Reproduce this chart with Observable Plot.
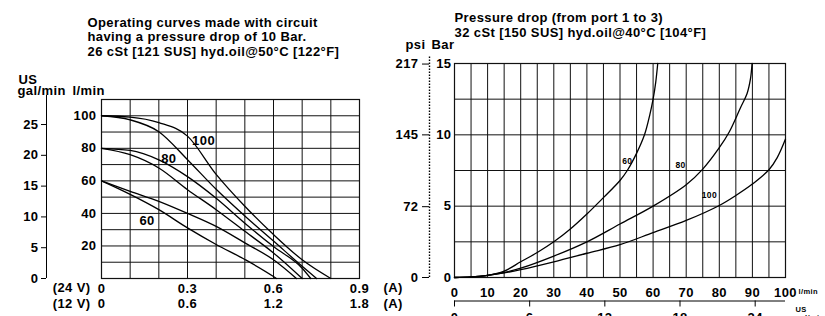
<!DOCTYPE html>
<html><head><meta charset="utf-8">
<script src="https://cdn.jsdelivr.net/npm/d3@7"></script>
<script src="https://cdn.jsdelivr.net/npm/@observablehq/plot@0.6"></script>
<style>
html,body{margin:0;padding:0;background:#fff;}
#wrap{position:relative;width:825px;height:316px;overflow:hidden;background:#fff;}
#wrap svg{position:absolute;top:0;}
</style></head><body><div id="wrap"></div>
<script>
// ---------- conversion ----------
const GAL = 3.785;      // l per US gal
const PSI = 14.5038;    // psi per bar

// ---------- LEFT chart: flow (l/min) vs coil current ----------
const leftTitle = ["Operating curves made with circuit", "having a pressure drop of 10 Bar.", "26 cSt [121 SUS] hyd.oil@50°C [122°F]"];
const leftCurrent24 = [0, 0.3, 0.6, 0.9];
const leftCurrent12 = [0, 0.6, 1.2, 1.8];
const leftFlowTicks = [20, 40, 60, 80, 100];
const leftGalTicks = [0, 5, 10, 15, 20, 25];
const leftGridX = [0.1, 0.2, 0.3, 0.4, 0.5, 0.6, 0.7, 0.8];
const leftGridY = [10, 20, 30, 40, 50, 60, 70, 80, 90, 100];
const left100Hi = [[0,100],[0.1,99.2],[0.2,95.8],[0.3,87.5],[0.4,64],[0.5,44.4],[0.6,27],[0.7,11.5],[0.8,0]];
const left100Lo = [[0,100],[0.1,97.5],[0.2,90.2],[0.3,73],[0.4,54.8],[0.5,38.4],[0.6,23],[0.7,7.5],[0.75,0]];
const left80Hi  = [[0,80],[0.1,78.7],[0.2,72.9],[0.3,62.6],[0.4,49.3],[0.5,34],[0.6,19.6],[0.7,6.3],[0.73,0]];
const left80Lo  = [[0,80],[0.1,76.1],[0.2,67.9],[0.3,54.6],[0.4,42.3],[0.5,29],[0.6,15.7],[0.7,0]];
const left60Hi  = [[0,60],[0.1,53.6],[0.2,47.4],[0.3,40],[0.4,32],[0.5,21.9],[0.6,11.5],[0.68,0]];
const left60Lo  = [[0,60],[0.1,51.7],[0.2,42.3],[0.3,31.1],[0.4,20.9],[0.5,11.7],[0.6,1.2],[0.61,0]];
const leftLabelText = ["100", "80", "60"];
const leftLabelX = [0.356, 0.235, 0.159];
const leftLabelY = [84.5, 73.3, 35.6];

// ---------- RIGHT chart: pressure drop (bar) vs flow (l/min) ----------
const rightTitle = ["Pressure drop (from port 1 to 3)", "32 cSt [150 SUS] hyd.oil@40°C [104°F]"];
const rightFlowTicks = [0, 10, 20, 30, 40, 50, 60, 70, 80, 90, 100];
const rightBarTicks = [0, 5, 10, 15];
const rightPsiTicks = [0, 72, 145, 217];
const rightGalTicks = [0, 6, 12, 18, 24];
const rightGridX = [5,10,15,20,25,30,35,40,45,50,55,60,65,70,75,80,85,90,95];
const rightGridY = [2.5, 5, 7.5, 10, 12.5];
const right60  = [[0,0],[5,0.04],[10,0.15],[15,0.45],[20,1.1],[25,1.75],[30,2.5],[35,3.4],[40,4.45],[45,5.6],[50,6.8],[52.2,7.5],[55,8.7],[57.4,10],[59,11.4],[60,12.5],[60.8,13.7],[61.4,15]];
const right80  = [[0,0],[5,0.04],[10,0.15],[15,0.35],[20,0.65],[30,1.5],[40,2.5],[50,3.75],[60,5.0],[70,6.5],[75,7.6],[80,9.1],[83,10.2],[86.4,11.9],[88.4,12.9],[89.4,13.9],[89.9,15]];
const right100 = [[0,0],[5,0.04],[10,0.15],[15,0.32],[20,0.55],[30,1.1],[40,1.7],[50,2.3],[60,3.15],[70,4.0],[80,5.05],[85,5.75],[90,6.55],[95,7.55],[97.5,8.4],[100,9.7]];
const rightLabelText = ["60", "80", "100"];
const rightLabelX = [52.2, 68.3, 77];
const rightLabelY = [8.15, 7.9, 5.75];

// ---------- build tables ----------
const toRows = (obj) => Object.entries(obj).flatMap(([s, arr]) => arr.map(([x, y]) => ({s, x, y})));
const leftRows = toRows({left100Hi, left100Lo, left80Hi, left80Lo, left60Hi, left60Lo});
const rightRows = toRows({right60, right80, right100});
const leftLabels = leftLabelText.map((t, i) => ({t, x: leftLabelX[i], y: leftLabelY[i]}));
const rightLabels = rightLabelText.map((t, i) => ({t, x: rightLabelX[i], y: rightLabelY[i]}));

const INK = "#111";
const baseStyle = {fontFamily: "'Liberation Sans', Arial, sans-serif", fontWeight: "bold", fontSize: "13px", color: "#000", background: "transparent", overflow: "visible", letterSpacing: "0.4px"};
const id = d => d;

const left = Plot.plot({
  width: 420, height: 316,
  marginLeft: 101, marginRight: 61, marginTop: 99, marginBottom: 38,
  x: {domain: [0, 0.9], axis: null},
  y: {domain: [0, 110], axis: null},
  style: baseStyle,
  marks: [
    Plot.ruleX(leftGridX, {stroke: INK, strokeWidth: 1}),
    Plot.ruleY(leftGridY, {stroke: INK, strokeWidth: 1}),
    Plot.frame({stroke: INK, strokeWidth: 1.2}),
    Plot.line(leftRows, {x: "x", y: "y", z: "s", curve: "monotone-x", stroke: "#000", strokeWidth: 1.3}),
    Plot.text(leftLabels, {x: "x", y: "y", text: "t", fontSize: 13, fill: "#000"}),
    // l/min axis
    Plot.axisY(leftFlowTicks, {tickSize: 0, tickPadding: 5, label: null, fontSize: 13}),
    // US gal/min axis
    Plot.ruleX([0], {y1: 0, y2: 112.5, dx: -55, stroke: "#000", strokeWidth: 1}),
    Plot.axisY(leftGalTicks.map(g => g * GAL), {tickFormat: d => Math.round(d / GAL), tickSize: 5, tickPadding: 3, dx: -55, label: null, fontSize: 13, stroke: "#000"}),
    Plot.text(["US"], {text: id, frameAnchor: "top-left", dx: -83, dy: -15.5, textAnchor: "start", lineAnchor: "bottom", fontSize: 13}),
    Plot.text(["gal/min"], {text: id, frameAnchor: "top-left", dx: -84, dy: -5, textAnchor: "start", lineAnchor: "bottom", fontSize: 13}),
    Plot.text(["l/min"], {text: id, frameAnchor: "top-left", dx: -29, dy: -5, textAnchor: "start", lineAnchor: "bottom", fontSize: 13}),
    // current axes
    Plot.axisX(leftCurrent24, {tickFormat: d => String(d), tickSize: 0, tickPadding: 5, label: null, fontSize: 13}),
    Plot.text(leftCurrent12, {x: d => d / 2, text: d => String(d), frameAnchor: "bottom", dy: 25.5, lineAnchor: "middle", fontSize: 13}),
    Plot.text(["(24 V)"], {text: id, frameAnchor: "bottom-left", dx: -11, dy: 9.8, textAnchor: "end", lineAnchor: "middle", fontSize: 13}),
    Plot.text(["(12 V)"], {text: id, frameAnchor: "bottom-left", dx: -11, dy: 25.5, textAnchor: "end", lineAnchor: "middle", fontSize: 13}),
    Plot.text(["(A)"], {text: id, frameAnchor: "bottom-right", dx: 24, dy: 9.8, textAnchor: "start", lineAnchor: "middle", fontSize: 13}),
    Plot.text(["(A)"], {text: id, frameAnchor: "bottom-right", dx: 24, dy: 25.5, textAnchor: "start", lineAnchor: "middle", fontSize: 13}),
    // title
    Plot.text([leftTitle.join("\n")], {text: id, frameAnchor: "top-left", dx: -14, dy: -83.3, textAnchor: "start", lineAnchor: "top", lineHeight: 1.12, fontSize: 13})
  ]
});
left.style.left = "0px";

const right = Plot.plot({
  width: 445, height: 316,
  marginLeft: 74, marginRight: 40, marginTop: 63, marginBottom: 39,
  x: {domain: [0, 100], axis: null},
  y: {domain: [0, 15], axis: null},
  style: baseStyle,
  marks: [
    Plot.ruleX(rightGridX, {stroke: INK, strokeWidth: 1}),
    Plot.ruleY(rightGridY, {stroke: INK, strokeWidth: 1}),
    Plot.frame({stroke: INK, strokeWidth: 1.2}),
    Plot.line(rightRows, {x: "x", y: "y", z: "s", curve: "catmull-rom", stroke: "#000", strokeWidth: 1.3}),
    Plot.text(rightLabels, {x: "x", y: "y", text: "t", fontSize: 8.5, fill: "#000"}),
    // Bar axis
    Plot.axisY(rightBarTicks, {tickSize: 0, tickPadding: 3, label: null, fontSize: 13}),
    Plot.text(["Bar"], {text: id, frameAnchor: "top-left", dx: -23, dy: -15, textAnchor: "start", lineAnchor: "bottom", fontSize: 13}),
    // psi axis (dotted)
    Plot.ruleX([0], {y1: 0, y2: 15.5, dx: -25, stroke: "#000", strokeWidth: 1.4, strokeDasharray: "1.5,1.5"}),
    Plot.axisY(rightPsiTicks.map(p => p / PSI), {tickFormat: d => Math.round(d * PSI), tickSize: 7, tickPadding: 4, dx: -25, label: null, fontSize: 13, stroke: "#000"}),
    Plot.text(["psi"], {text: id, frameAnchor: "top-left", dx: -49, dy: -15, textAnchor: "start", lineAnchor: "bottom", fontSize: 13}),
    // l/min axis
    Plot.axisX(rightFlowTicks, {tickSize: 0, tickPadding: 10, label: null, fontSize: 13}),
    Plot.text(["l/min"], {text: id, frameAnchor: "bottom-right", dx: 13, dy: 14.5, textAnchor: "start", lineAnchor: "middle", fontSize: 7.5}),
    // US gal/min axis
    Plot.ruleY([0], {x1: 0, x2: 100, dy: 23.5, stroke: "#000", strokeWidth: 1}),
    Plot.axisX(rightGalTicks.map(g => g * GAL), {tickFormat: d => Math.round(d / GAL), tickSize: 6, tickPadding: 6, dy: 23.5, label: null, fontSize: 13, stroke: "#000"}),
    Plot.text(["US\ngal/min"], {text: id, frameAnchor: "bottom-right", dx: 10, dy: 29.5, textAnchor: "start", lineAnchor: "top", lineHeight: 1.0, fontSize: 7.5}),
    // title
    Plot.text([rightTitle.join("\n")], {text: id, frameAnchor: "top-left", dx: 0, dy: -52, textAnchor: "start", lineAnchor: "top", lineHeight: 1.15, fontSize: 13})
  ]
});
right.style.left = "380px";

const wrap = document.getElementById("wrap");
wrap.appendChild(left);
wrap.appendChild(right);
</script>
</body></html>
